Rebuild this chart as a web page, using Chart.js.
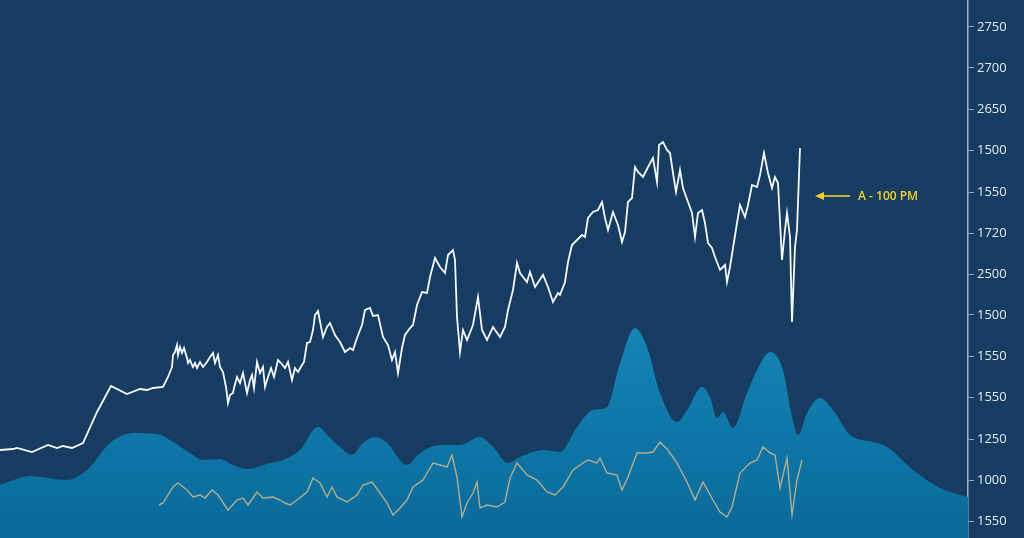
<!DOCTYPE html>
<html>
<head>
<meta charset="utf-8">
<title>Price chart</title>
<script src="https://cdn.jsdelivr.net/npm/chart.js@4.4.1/dist/chart.umd.min.js"></script>
<style>
  html, body { margin: 0; padding: 0; background: #163c61; overflow: hidden; }
  #wrap { width: 1024px; height: 538px; position: relative; }
</style>
</head>
<body>
<div id="wrap"><canvas id="myChart"></canvas></div>
<script>
// right axis: tick values (bottom to top) and the labels printed next to them
const tickValues = [17, 58, 99, 141, 182, 223, 264, 305, 346, 388, 429, 470, 511];
const tickLabels = ['1550', '1000', '1250', '1550', '1550', '1500', '2500', '1720', '1550', '1500', '2650', '2700', '2750'];

// price line (white)
const priceTime = [0, 13, 17, 32, 48, 57, 63, 72, 83, 97, 111, 127, 140, 147, 153, 163, 168, 172, 173, 175,
  177, 178, 180, 182, 184, 187, 188, 190, 192, 193, 195, 197, 200, 203, 207, 210, 213, 215, 218, 220,
  223, 226, 228, 230, 233, 234, 237, 240, 243, 247, 250, 252, 254, 257, 260, 263, 265, 268, 271, 274,
  278, 281, 285, 288, 292, 295, 298, 302, 304, 307, 310, 313,
  315, 318, 323, 327, 330, 335, 340, 345, 350, 353, 357, 362, 365, 370, 373, 378, 383, 388, 392, 395,
  398, 402, 405, 410, 413, 417, 422, 427, 430, 435, 440, 445, 448, 453, 455, 457, 460, 463, 467, 473,
  478, 482, 487, 493, 500, 505, 508, 513, 517, 520, 527, 530, 535, 543, 548, 553, 558, 560, 565, 568,
  572, 577, 582, 585, 588, 593, 598, 602, 605, 608, 613, 618, 622, 625, 628, 632, 635, 638, 643, 648,
  653, 657, 659, 663, 667, 670, 673, 676, 680, 683, 688, 692, 695, 698, 702, 705, 708, 712, 715, 720,
  725, 727, 730, 733, 737, 740, 745, 748, 752, 757, 760, 764, 768, 772, 775, 778, 782, 785, 787, 790,
  792, 795, 797, 800];
const priceValues = [88, 89, 90, 86, 93, 90, 92, 90, 95, 126, 152, 144, 149, 148, 150, 151, 161, 171, 183, 186,
  193, 183, 191, 185, 190, 180, 175, 178, 173, 171, 175, 170, 176, 171, 176, 181, 185, 175, 183, 171,
  166, 151, 135, 143, 145, 150, 161, 155, 165, 145, 158, 163, 150, 176, 165, 171, 151, 161, 170, 161,
  178, 175, 170, 176, 158, 170, 166, 173, 176, 195, 196, 208,
  223, 227, 201, 211, 215, 203, 196, 186, 190, 188, 200, 213, 228, 230, 222, 223, 201, 193, 178, 186,
  165, 190, 203, 210, 213, 233, 246, 245, 261, 280, 271, 265, 283, 288, 278, 221, 186, 208, 198, 213,
  241, 208, 198, 211, 201, 211, 228, 248, 275, 265, 256, 266, 251, 263, 251, 236, 245, 243, 256, 276,
  293, 298, 303, 301, 320, 326, 328, 336, 320, 308, 326, 313, 296, 306, 336, 340, 371, 366, 361, 371,
  380, 356, 393, 396, 388, 385, 365, 346, 368, 350, 336, 325, 301, 325, 328, 315, 295, 290, 281, 268,
  273, 256, 271, 290, 315, 333, 321, 333, 353, 351, 363, 385, 365, 350, 361, 355, 278, 308, 325, 301,
  216, 291, 308, 390];

// volume-like smooth area (blue)
const areaTime = [0, 30, 67, 87, 110, 133, 157, 173, 190, 203, 220, 233, 248, 267, 283, 300, 318, 330, 340, 352,
  363, 375, 387, 407, 420, 440, 460, 480, 493, 508, 520, 543, 560, 577, 593, 607, 620, 635, 647, 660,
  677, 687, 702, 710, 717, 723, 733, 747, 757, 770, 783, 792, 798, 807, 820, 833, 850, 873, 887, 913,
  940, 960, 968];
const areaValues = [53, 62, 58, 68, 95, 105, 104, 96, 85, 78, 79, 73, 69, 74, 78, 88, 111, 100, 91, 83,
  95, 101, 95, 73, 85, 93, 93, 101, 91, 75, 81, 88, 86, 111, 128, 131, 175, 210, 191, 145,
  116, 128, 151, 141, 120, 126, 110, 145, 168, 186, 168, 121, 103, 125, 140, 128, 103, 96, 91, 68,
  50, 43, 41];

// indicator line (tan)
const indTime = [159, 163, 173, 178, 187, 193, 200, 205, 212, 218, 228, 237, 243, 248, 257, 263, 273, 280, 285, 290,
  297, 307, 313, 320, 327, 332, 337, 347, 357, 363, 372, 380, 387, 393, 400, 407, 413, 423, 433, 440,
  447, 452, 457, 462, 467, 473, 477, 480, 487, 497, 505, 510, 517, 527, 537, 547, 555, 563, 573, 583,
  588, 597, 600, 607, 617, 622, 628, 637, 647, 653, 660, 668, 677, 687, 695, 703, 713, 720, 727, 732,
  740, 750, 757, 763, 770, 775, 780, 787, 792, 797, 802];
const indValues = [33, 35, 51, 55, 48, 41, 43, 40, 48, 43, 28, 38, 40, 33, 46, 40, 41, 38, 35, 33,
  38, 46, 60, 55, 41, 51, 41, 36, 43, 53, 56, 45, 35, 23, 30, 38, 51, 58, 75, 73,
  71, 83, 61, 21, 35, 45, 56, 30, 33, 31, 36, 60, 75, 63, 58, 46, 43, 51, 68, 75,
  78, 75, 80, 65, 63, 48, 61, 85, 85, 86, 96, 88, 75, 56, 38, 56, 38, 26, 21, 31,
  65, 75, 78, 91, 85, 83, 50, 80, 23, 58, 78];

// callout
const calloutTime = 815;
const calloutValue = 342;
const calloutText = 'A - 100 PM';

const toPoints = (ts, vs) => ts.map((t, i) => ({ x: t, y: vs[i] }));

const calloutPlugin = {
  id: 'callout',
  afterDatasetsDraw(chart) {
    const ctx = chart.ctx;
    const x = chart.scales.x.getPixelForValue(calloutTime);
    const y = chart.scales.y.getPixelForValue(calloutValue);
    ctx.save();
    ctx.strokeStyle = '#f0d02c';
    ctx.fillStyle = '#f0d02c';
    ctx.lineWidth = 1.6;
    ctx.beginPath();
    ctx.moveTo(x + 5, y);
    ctx.lineTo(x + 35, y);
    ctx.stroke();
    ctx.beginPath();
    ctx.moveTo(x, y);
    ctx.lineTo(x + 9, y - 4);
    ctx.lineTo(x + 9, y + 4);
    ctx.closePath();
    ctx.fill();
    ctx.font = '600 12px "Open Sans", sans-serif';
    ctx.textBaseline = 'middle';
    ctx.fillText(calloutText, x + 43, y + 1);
    ctx.restore();
  }
};

const canvas = document.getElementById('myChart');
const ctx = canvas.getContext('2d');

const areaGrad = ctx.createLinearGradient(0, 320, 0, 538);
areaGrad.addColorStop(0, '#1585b5');
areaGrad.addColorStop(1, '#09699a');

new Chart(ctx, {
  type: 'line',
  data: {
    datasets: [
      {
        label: 'Price',
        data: toPoints(priceTime, priceValues),
        borderColor: '#f4f8fc',
        borderWidth: 1.8,
        pointRadius: 0,
        tension: 0,
        order: 1
      },
      {
        label: 'Indicator',
        data: toPoints(indTime, indValues),
        borderColor: 'rgba(196, 182, 140, 0.9)',
        borderWidth: 1.4,
        pointRadius: 0,
        tension: 0,
        order: 2
      },
      {
        label: 'Volume',
        data: toPoints(areaTime, areaValues),
        borderColor: 'rgba(0,0,0,0)',
        borderWidth: 0,
        backgroundColor: areaGrad,
        fill: 'start',
        pointRadius: 0,
        cubicInterpolationMode: 'monotone',
        order: 3
      }
    ]
  },
  options: {
    responsive: true,
    maintainAspectRatio: false,
    animation: false,
    layout: { padding: 0 },
    plugins: {
      legend: { display: false },
      tooltip: { enabled: false }
    },
    scales: {
      x: {
        type: 'linear',
        min: 0,
        max: 968,
        display: false
      },
      y: {
        type: 'linear',
        position: 'right',
        min: 0,
        max: 538,
        afterBuildTicks: axis => {
          axis.ticks = tickValues.map(v => ({ value: v }));
        },
        afterFit: scale => {
          scale.width = 56;
          scale.paddingTop = 0;
          scale.paddingBottom = 0;
        },
        grid: {
          drawOnChartArea: false,
          drawTicks: true,
          tickLength: 6,
          color: '#8ea8c2'
        },
        border: {
          display: true,
          color: '#9bb3cb',
          width: 1.5
        },
        ticks: {
          color: '#e3ebf3',
          padding: 3,
          font: { family: '"Open Sans", sans-serif', size: 13 },
          callback: value => {
            const i = tickValues.indexOf(value);
            return i >= 0 ? tickLabels[i] : '';
          }
        }
      }
    }
  },
  plugins: [calloutPlugin]
});
</script>
</body>
</html>
